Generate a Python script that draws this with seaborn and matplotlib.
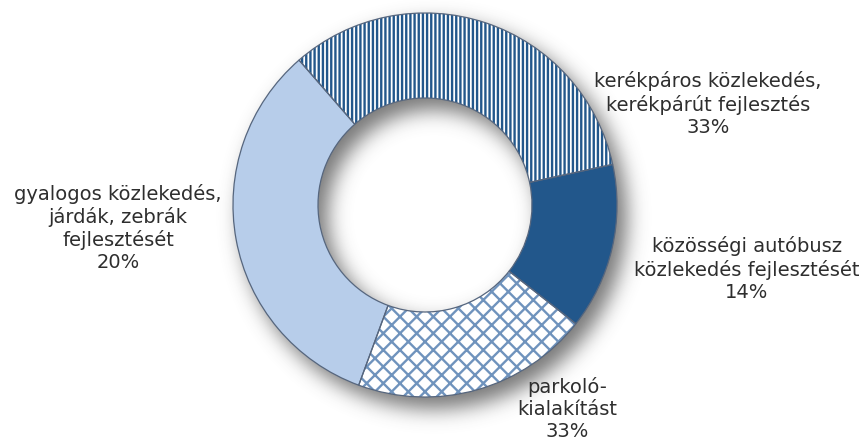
import matplotlib
matplotlib.use("Agg")
import matplotlib.pyplot as plt
import seaborn as sns
import numpy as np

# szeletek az óramutató járásával egyező irányban, a bal felső határtól indulva
categories = ["kerékpáros közlekedés,\nkerékpárút fejlesztés",
              "közösségi autóbusz\nközlekedés fejlesztését",
              "parkoló-\nkialakítást",
              "gyalogos közlekedés,\njárdák, zebrák\nfejlesztését"]
wedge_sizes = [33, 14, 20, 33]          # a képen mért ívhosszak
pct_text = ["33%", "14%", "33%", "20%"]  # a képen olvasható feliratok

sns.set_theme(style="white")
plt.rcParams['font.family'] = ['DejaVu Sans']
plt.rcParams['hatch.linewidth'] = 1.7

W, H = 867, 441
fig = plt.figure(figsize=(W / 100, H / 100), dpi=100)
ax = fig.add_axes([0, 0, 1, 1])

cx, cy = 425, H - 205
r_out, r_in = 192, 107

# elmosott árnyék a gyűrű alatt (jobbra lefelé eltolva)
x0, x1, y0, y1 = 170, 700, 0, H
xs = np.arange(x0, x1) + 0.5
ys = np.arange(y0, y1) + 0.5
X, Y = np.meshgrid(xs, ys)
d = np.hypot(X - (cx + 9), Y - (cy - 11))
ring = ((d <= r_out + 1) & (d >= r_in - 1)).astype(float)
k = np.exp(-0.5 * (np.arange(-30, 31) / 10.0) ** 2)
k /= k.sum()
blur = np.apply_along_axis(lambda v: np.convolve(v, k, mode="same"), 0, ring)
blur = np.apply_along_axis(lambda v: np.convolve(v, k, mode="same"), 1, blur)
rgba = np.zeros(blur.shape + (4,))
rgba[..., :3] = 0.3
rgba[..., 3] = np.clip(blur * 0.75, 0, 1)
ax.imshow(rgba, extent=(x0, x1, y0, y1), origin="lower", zorder=0,
          interpolation="bilinear")

navy = "#22578b"
light = "#b7cdea"
fills = ["white", navy, "white", light]
hatches = ["||||", None, "xx", None]
hatch_cols = [navy, None, "#6f93bd", None]  # a rácsminta vékonyabbnak hat

wedges, _ = ax.pie(wedge_sizes, startangle=131, counterclock=False,
                   center=(cx, cy), radius=r_out, colors=fills,
                   wedgeprops=dict(width=r_out - r_in, linewidth=0),
                   frame=True)
for w, h, hc in zip(wedges, hatches, hatch_cols):
    w.set_zorder(2)
    if h:
        w.set_hatch(h)
        w.set_edgecolor(hc)
        w.set_linewidth(0)

outl, _ = ax.pie(wedge_sizes, startangle=131, counterclock=False,
                 center=(cx, cy), radius=r_out, frame=True,
                 wedgeprops=dict(width=r_out - r_in, fill=False,
                                 edgecolor="#56667e", linewidth=0.9))
for w in outl:
    w.set_zorder(3)

ax.set_xlim(0, W)
ax.set_ylim(0, H)
ax.set_aspect("equal")
ax.axis("off")

label_pos = [(708, H - 104), (747, H - 269), (567, H - 409), (118, H - 228)]
for cat, pct, (lx, ly) in zip(categories, pct_text, label_pos):
    ax.text(lx, ly, f"{cat}\n{pct}", ha="center", va="center",
            fontsize=14, color="#2e2e2e", linespacing=1.2, zorder=4)

fig.savefig("out.png", dpi=100, facecolor="white")
